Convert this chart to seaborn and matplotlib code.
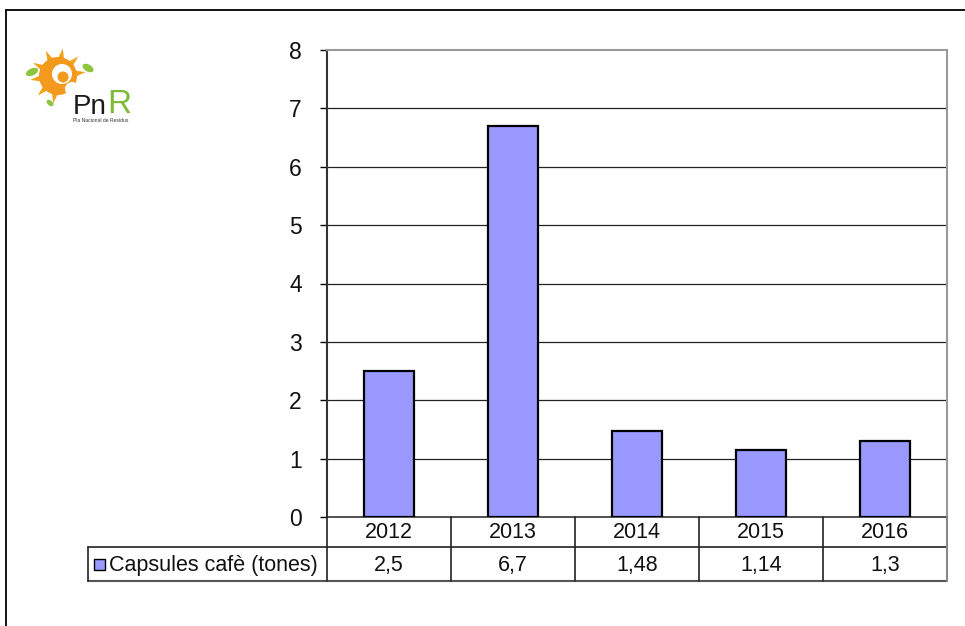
import matplotlib
matplotlib.use("Agg")
import matplotlib.pyplot as plt
import seaborn as sns
import pandas as pd
import numpy as np
from matplotlib.lines import Line2D
from matplotlib.patches import Rectangle, Polygon, Circle, Ellipse

years = ["2012", "2013", "2014", "2015", "2016"]
values = [2.5, 6.7, 1.48, 1.14, 1.3]
value_labels = ["2,5", "6,7", "1,48", "1,14", "1,3"]
series_name = "Capsules cafè (tones)"
yticks = [0, 1, 2, 3, 4, 5, 6, 7, 8]

sns.set_theme(style="white")
plt.rcParams['font.family'] = ['Liberation Sans', 'DejaVu Sans']

W, H = 965, 626
fig = plt.figure(figsize=(W / 100, H / 100), dpi=100)

def fx(x):
    return x / W

def fy(y):
    return 1 - y / H

# plot area
L, T, R, B = 327, 50, 947, 517
ax = fig.add_axes([fx(L), fy(B), (R - L) / W, (B - T) / H])
df = pd.DataFrame({"year": years, "value": values})
sns.barplot(data=df, x="year", y="value", color="#9999FF", saturation=1,
            edgecolor="black", linewidth=1.6, width=0.41, ax=ax, zorder=3)
ax.set_ylim(0, 8)
ax.set_xlim(-0.5, 4.5)
ax.set_yticks(yticks)
ax.set_yticklabels([str(t) for t in yticks], fontsize=16.5, color="#111111")
ax.set_xticks([])
ax.set_xlabel("")
ax.set_ylabel("")
for t in yticks[1:-1]:
    ax.axhline(t, color="#222222", linewidth=0.9, zorder=1)
ax.tick_params(axis="y", length=5, width=1, color="black", pad=13, left=True)
for side in ["top", "right"]:
    ax.spines[side].set_color("#999999")
    ax.spines[side].set_linewidth(1.5)
ax.spines["left"].set_color("#333333")
ax.spines["left"].set_linewidth(1.5)
ax.spines["bottom"].set_color("#333333")
ax.spines["bottom"].set_linewidth(1.2)

# data table
col_edges = [L + i * (R - L) / 5 for i in range(6)]
r0, r1, r2 = 517, 547, 581
LBL = 88
def hline(x0, x1, y, c="#222222", lw=1.2):
    fig.add_artist(Line2D([fx(x0), fx(x1)], [fy(y), fy(y)], color=c, linewidth=lw))
def vline(x, y0, y1, c="#222222", lw=1.2):
    fig.add_artist(Line2D([fx(x), fx(x)], [fy(y0), fy(y1)], color=c, linewidth=lw))

hline(LBL, R, r1)
hline(LBL, R, r2, c="#555555", lw=1.5)
for i, x in enumerate(col_edges):
    c = "#888888" if i == 5 else "#222222"
    vline(x, r0, r2, c=c, lw=1.5 if i == 5 else 1.2)
vline(LBL, r1, r2)

TFS = 15.5
for i, (yr, lab) in enumerate(zip(years, value_labels)):
    cx = (col_edges[i] + col_edges[i + 1]) / 2
    fig.text(fx(cx), fy((r0 + r1) / 2 + 1), yr, ha="center", va="center",
             fontsize=TFS, color="#111111")
    fig.text(fx(cx), fy((r1 + r2) / 2 + 1), lab, ha="center", va="center",
             fontsize=TFS, color="#111111")

fig.add_artist(Rectangle((fx(94), fy(570)), 11 / W, 11 / H, facecolor="#9999FF",
                         edgecolor="black", linewidth=1, transform=fig.transFigure))
fig.text(fx(109), fy((r1 + r2) / 2 + 1), series_name, ha="left", va="center",
         fontsize=TFS, color="#111111")

# outer border
fig.add_artist(Line2D([fx(6), 1], [fy(10), fy(10)], color="black", linewidth=1.3))
fig.add_artist(Line2D([fx(6), fx(6)], [fy(10), 0], color="black", linewidth=1.3))

# logo (approximation), in pixel coordinates
X0, X1, Y0, Y1 = 20, 140, 40, 130
lax = fig.add_axes([fx(X0), fy(Y1), (X1 - X0) / W, (Y1 - Y0) / H])
lax.set_xlim(X0, X1)
lax.set_ylim(Y1, Y0)
lax.axis("off")
cx0, cy0 = 58, 76
for k in range(10):
    a = np.deg2rad(k * 36 + 100)
    if 0 < np.rad2deg(a) % 360 < 80:
        continue
    a1 = a - np.deg2rad(11)
    a2 = a + np.deg2rad(11)
    lax.add_patch(Polygon([[cx0 + 17 * np.cos(a1), cy0 + 17 * np.sin(a1)],
                           [cx0 + 28 * np.cos(a), cy0 + 28 * np.sin(a)],
                           [cx0 + 17 * np.cos(a2), cy0 + 17 * np.sin(a2)]],
                          closed=True, facecolor="#F4A21C", edgecolor="none"))
lax.add_patch(Circle((cx0, cy0), 19, facecolor="#F39A1E", edgecolor="none"))
lax.add_patch(Circle((cx0 + 4, cy0 - 2), 10, facecolor="white", edgecolor="none"))
lax.add_patch(Circle((cx0 + 5, cy0 + 1), 5.5, facecolor="#F39A1E", edgecolor="none"))
lax.add_patch(Circle((cx0 + 14, cy0 + 13), 7, facecolor="white", edgecolor="none"))
lax.add_patch(Ellipse((32, 72), 13, 7, angle=-25, facecolor="#8CC63F", edgecolor="none"))
lax.add_patch(Ellipse((88, 68), 12, 7, angle=30, facecolor="#8CC63F", edgecolor="none"))
lax.add_patch(Ellipse((50, 103), 8, 5, angle=40, facecolor="#8CC63F", edgecolor="none"))
lax.text(73, 114, "Pn", fontsize=20, color="#1a1a1a",
         family=["Liberation Sans Narrow", "Liberation Sans"], va="baseline")
lax.text(107, 113, "R", fontsize=24, color="#7DBB3A",
         family=["Liberation Sans Narrow", "Liberation Sans"], va="baseline")
lax.text(73, 121, "Pla Nacional de Residus", fontsize=3.6, color="#333333", va="center")

fig.savefig("out.png", dpi=100, facecolor="white")
